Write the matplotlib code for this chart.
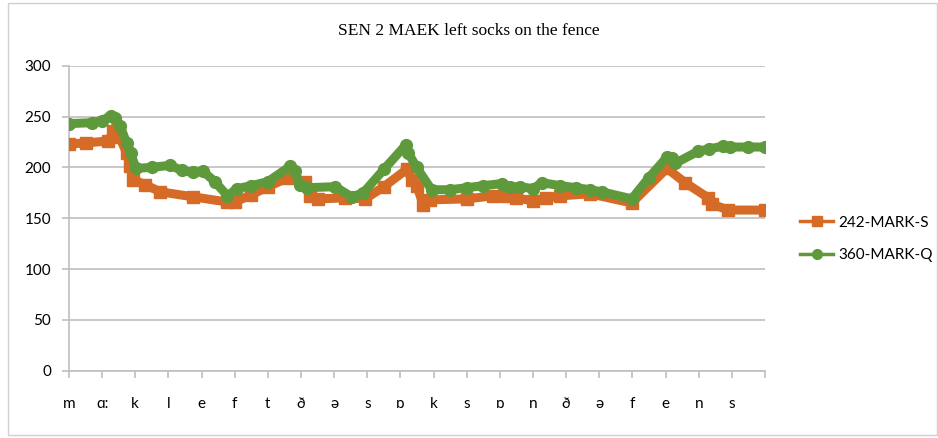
import matplotlib
matplotlib.use("Agg")
import matplotlib.pyplot as plt
from matplotlib.patches import Rectangle

title = "SEN 2 MAEK left socks on the fence"
categories = ["m", "ɑ:", "k", "l", "e", "f", "t", "ð", "ə", "s", "ɒ",
              "k", "s", "ɒ", "n", "ð", "ə", "f", "e", "n", "s"]

s_pos = [0, 0.5, 1.19, 1.34, 1.52, 1.74, 1.84, 1.92, 2.3, 2.75, 3.75, 4.76,
         5.01, 5.5, 6.01, 6.62, 7.12, 7.27, 7.5, 8.33, 8.94, 9.5, 10.19, 10.34,
         10.49, 10.69, 10.89, 12.0, 12.8, 13.2, 13.5, 14.01, 14.4, 14.82, 15.72,
         16.98, 18.04, 18.59, 19.29, 19.39, 19.89, 21.0]
s_vals = [223, 224, 226, 236, 230, 214, 201, 188, 183, 176, 171, 166,
          166, 173, 181, 190, 186, 172, 169, 170, 169, 181, 198, 188,
          182, 163, 168, 169, 172, 172, 170, 167, 170, 172, 174,
          165, 199, 185, 170, 164, 158, 158]

q_pos = [0, 0.7, 1.0, 1.26, 1.4, 1.54, 1.74, 1.86, 2.02, 2.5, 3.05, 3.4, 3.75,
         4.05, 4.4, 4.78, 5.06, 5.5, 6.0, 6.67, 6.82, 6.97, 7.17, 8.03, 8.53,
         8.88, 9.5, 10.16, 10.24, 10.49, 10.94, 11.5, 12.0, 12.5, 13.05, 13.3,
         13.6, 14.01, 14.26, 14.82, 15.3, 15.72, 16.07, 16.98, 17.5, 18.04,
         18.19, 18.29, 18.99, 19.3, 19.74, 19.95, 20.5, 21.0]
q_vals = [243, 244, 246, 251, 249, 241, 224, 214, 199, 200, 202, 197, 195,
          196, 186, 172, 179, 182, 186, 201, 196, 183, 180, 181, 171,
          175, 198, 222, 214, 200, 178, 178, 180, 182, 184, 181,
          181, 179, 185, 182, 180, 178, 176, 169, 190, 210,
          209, 204, 216, 218, 221, 220, 220, 220]

orange = "#D56B27"
green = "#5E9A3C"
grid = "#BFBFBF"
font = ["Lato", "DejaVu Sans"]

fig = plt.figure(figsize=(9.38, 4.38), dpi=100)
ax = fig.add_axes([69/938, 1-370.7/438, (765-69)/938, (370.7-65.7)/438])

ax.plot(s_pos, s_vals, color=orange, lw=6.5, marker="s", ms=8,
        solid_joinstyle="miter", label="242-MARK-S", zorder=3)
ax.plot(q_pos, q_vals, color=green, lw=6.5, marker="o", ms=8.5,
        solid_joinstyle="round", label="360-MARK-Q", zorder=4)

ax.set_xlim(0, 21)
ax.set_ylim(0, 300)
ax.set_yticks(range(0, 301, 50))
ax.set_xticks(range(0, 22))
ax.set_xticklabels(categories + [""])
ax.yaxis.grid(True, color=grid, lw=1.2)
ax.set_axisbelow(True)
for side in ["top", "right"]:
    ax.spines[side].set_visible(False)
for side in ["left", "bottom"]:
    ax.spines[side].set_color(grid)
    ax.spines[side].set_linewidth(1.2)
ax.tick_params(axis="x", direction="out", length=5, color=grid, width=1.2,
               pad=14, labelsize=11, labelcolor="#000000")
ax.tick_params(axis="y", direction="out", length=5, color=grid, width=1.2,
               pad=8, labelsize=11, labelcolor="#000000")
for lab in ax.get_xticklabels() + ax.get_yticklabels():
    lab.set_family(font)

fig.text(0.5, 1-31/438, title, ha="center", va="center",
         family="Liberation Serif", fontsize=12.5)

leg = fig.legend(loc="center left", bbox_to_anchor=(786/938, 1-239/438),
                 frameon=False, prop={"family": font, "size": 11},
                 handlelength=2.2, handletextpad=0.3, labelspacing=1.2)
for h in leg.legend_handles:
    h.set_linewidth(2.5)
    h.set_markersize(7)

fig.patches.append(Rectangle((8/938, 3/438), 929/938, 432/438, transform=fig.transFigure,
                             fill=False, edgecolor="#D0D0D0", lw=1))

fig.savefig("out.png", dpi=100)
